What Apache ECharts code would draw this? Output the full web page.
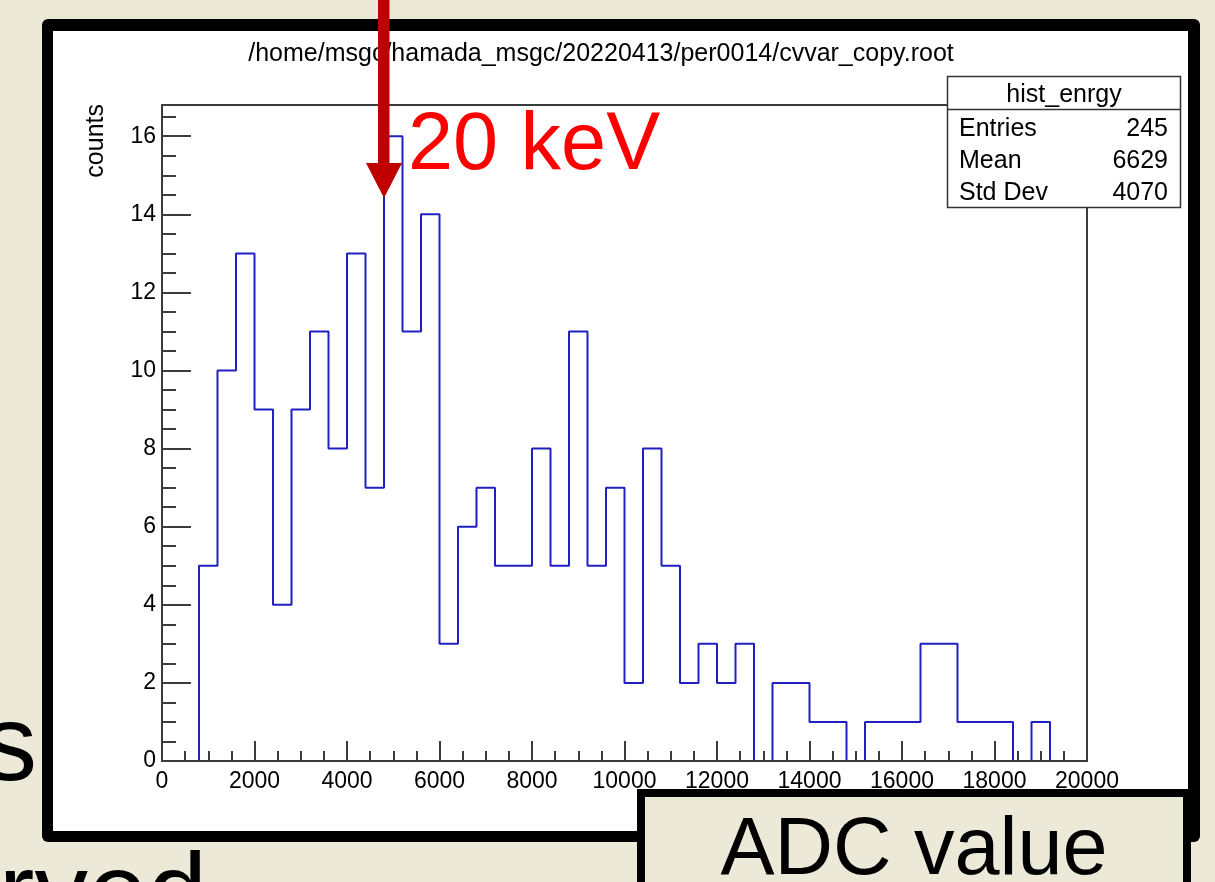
<!DOCTYPE html>
<html>
<head>
<meta charset="utf-8">
<script src="https://cdn.jsdelivr.net/npm/echarts@6/dist/echarts.min.js"></script>
<style>
  html, body { margin: 0; padding: 0; background: #ece9d8; }
  #main { width: 1215px; height: 882px; }
</style>
</head>
<body>
<div id="main"></div>
<script>
// histogram hist_enrgy, 50 bins of 400 ADC from 0 to 20000
var binStart = 0
var binWidth = 400
var counts = [0, 0, 5, 10, 13, 9, 4, 9, 11, 8,
  13, 7, 16, 11, 14, 3, 6, 7, 5, 5,
  8, 5, 11, 5, 7, 2, 8, 5, 2, 3,
  2, 3, 0, 2, 2, 1, 1, 0, 1, 1,
  1, 3, 3, 1, 1, 1, 0, 1, 0, 0]

var xTicks = [0, 2000, 4000, 6000, 8000, 10000, 12000, 14000, 16000, 18000, 20000]
var yTicks = [0, 2, 4, 6, 8, 10, 12, 14, 16]

var statNames = ['Entries', 'Mean', 'Std Dev']
var statValues = ['245', '6629', '4070']

var histTitle = '/home/msgc/hamada_msgc/20220413/per0014/cvvar_copy.root'

// step points: left edge of every bin, then the last edge back to 0
var histData = []
for (var i = 0; i < counts.length; i++) {
  histData.push([binStart + i * binWidth, counts[i]])
}
histData.push([binStart + counts.length * binWidth, 0])

// minor ticks on y every 0.5
var yMinor = []
for (var v = 0.5; v < 16.8; v += 0.5) {
  if (v % 2 !== 0) yMinor.push(v)
}

var FONT = '"Liberation Sans", Arial, Helvetica, sans-serif'
var axisColor = '#3c3c3c'
var txt = '#000'

var myChart = echarts.init(document.getElementById('main'))

var graphics = [
  // black frame of the pasted ROOT canvas
  { type: 'rect', z: -10, shape: { x: 42, y: 19, width: 1158, height: 823, r: 6 }, style: { fill: '#000' } },
  { type: 'rect', z: -9, shape: { x: 53, y: 31, width: 1135, height: 800 }, style: { fill: '#fff' } },
  // title
  { type: 'text', z: 5, x: 601, y: 54, style: { text: histTitle, font: '25px ' + FONT, fill: txt, align: 'center', verticalAlign: 'middle' } },
  // y title
  { type: 'text', z: 5, x: 96, y: 104, rotation: Math.PI / 2, style: { text: 'counts', font: '25px ' + FONT, fill: txt, align: 'right', verticalAlign: 'middle' } },
  // stats box
  { type: 'rect', z: 20, shape: { x: 947.5, y: 76.5, width: 233, height: 131 }, style: { fill: '#fff', stroke: '#333', lineWidth: 1.5 } },
  { type: 'line', z: 21, shape: { x1: 947.5, y1: 109.5, x2: 1180.5, y2: 109.5 }, style: { stroke: '#333', lineWidth: 1.5 } },
  { type: 'text', z: 21, x: 1064, y: 95, style: { text: 'hist_enrgy', font: '25px ' + FONT, fill: txt, align: 'center', verticalAlign: 'middle' } }
]
for (var s = 0; s < statNames.length; s++) {
  graphics.push({ type: 'text', z: 21, x: 959, y: 129 + s * 32, style: { text: statNames[s], font: '25px ' + FONT, fill: txt, align: 'left', verticalAlign: 'middle' } })
  graphics.push({ type: 'text', z: 21, x: 1168, y: 129 + s * 32, style: { text: statValues[s], font: '25px ' + FONT, fill: txt, align: 'right', verticalAlign: 'middle' } })
}
graphics = graphics.concat([
  // red arrow + label on the slide
  { type: 'rect', z: 50, shape: { x: 378, y: -2, width: 11.5, height: 167 }, style: { fill: '#c00000' } },
  { type: 'polygon', z: 50, shape: { points: [[366, 163], [402, 163], [384, 198]] }, style: { fill: '#c00000' } },
  { type: 'text', z: 50, x: 408, y: 147, style: { text: '20 keV', font: '81px ' + FONT, fill: '#ff0000', align: 'left', verticalAlign: 'middle' } },
  // ADC value box
  { type: 'rect', z: 50, shape: { x: 641, y: 793, width: 546, height: 120 }, style: { fill: '#ece9d8', stroke: '#000', lineWidth: 8 } },
  { type: 'text', z: 51, x: 914, y: 852, style: { text: 'ADC value', font: '81px ' + FONT, fill: '#000', align: 'center', verticalAlign: 'middle' } },
  // slide text cut by the window
  { type: 'text', z: 50, x: 37, y: 750, style: { text: 's', font: '107px ' + FONT, fill: '#000', align: 'right', verticalAlign: 'middle' } },
  { type: 'text', z: 50, x: 207, y: 898, style: { text: 'rved', font: '107px ' + FONT, fill: '#000', align: 'right', verticalAlign: 'middle' } }
])

myChart.setOption({
  backgroundColor: '#ece9d8',
  animation: false,
  grid: {
    left: 162,
    right: 128,
    top: 105,
    bottom: 121,
    show: true,
    backgroundColor: 'transparent',
    borderColor: axisColor,
    borderWidth: 2
  },
  xAxis: {
    type: 'value',
    min: 0,
    max: 20000,
    interval: 2000,
    z: 5,
    axisLine: { show: true, onZero: false, lineStyle: { color: axisColor, width: 2 } },
    axisTick: { show: true, inside: true, length: 20, customValues: xTicks, lineStyle: { color: axisColor, width: 2 } },
    minorTick: { show: true, splitNumber: 4, length: 10, lineStyle: { color: axisColor, width: 2 } },
    axisLabel: {
      customValues: xTicks,
      margin: 9,
      fontSize: 23,
      fontFamily: FONT,
      color: txt,
      formatter: function (val) {
        return String(val)
      }
    },
    splitLine: { show: false }
  },
  yAxis: [
    {
      type: 'value',
      min: 0,
      max: 16.8,
      interval: 2,
      z: 5,
      axisLine: { show: true, onZero: false, lineStyle: { color: axisColor, width: 2 } },
      axisTick: { show: true, inside: true, length: 29, customValues: yTicks, lineStyle: { color: axisColor, width: 2 } },
      axisLabel: { customValues: yTicks, margin: 6, fontSize: 23, fontFamily: FONT, color: txt },
      splitLine: { show: false }
    },
    {
      // only the short ticks
      type: 'value',
      min: 0,
      max: 16.8,
      interval: 2,
      position: 'left',
      z: 5,
      axisLine: { show: false },
      axisTick: { show: true, inside: true, length: 14, customValues: yMinor, lineStyle: { color: axisColor, width: 2 } },
      axisLabel: { show: false },
      splitLine: { show: false }
    }
  ],
  series: [
    {
      name: 'hist_enrgy',
      type: 'line',
      step: 'end',
      yAxisIndex: 0,
      z: 1,
      showSymbol: false,
      symbol: 'none',
      lineStyle: { color: '#2020c0', width: 2 },
      data: histData
    }
  ],
  graphic: graphics
})
</script>
</body>
</html>
